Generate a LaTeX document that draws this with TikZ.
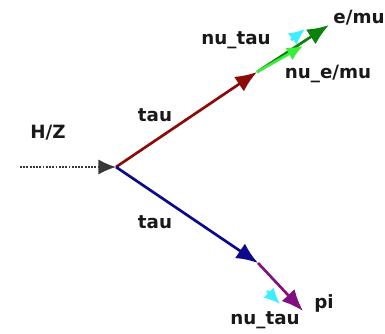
\documentclass[tikz,border=0pt]{standalone}
\usepackage{fontspec}
\setmainfont{DejaVu Sans}
\usetikzlibrary{arrows.meta,positioning}
\definecolor{taured}{HTML}{8B0A0A}
\definecolor{taublue}{HTML}{0A0A8B}
\definecolor{lepgreen}{HTML}{0A820A}
\definecolor{nugreen}{HTML}{3CEE3C}
\definecolor{nucyan}{HTML}{3CEEFF}
\definecolor{pipurple}{HTML}{80107F}
\definecolor{beamgray}{HTML}{383838}
\tikzset{
  particle/.style={-{Latex[length=5.4mm,width=4.4mm]}, line width=1.9pt},
  neutrino/.style={-{Latex[length=4mm,width=3.6mm]}, line width=1.9pt},
  beam/.style={-{Latex[length=4.4mm,width=3.8mm]}, densely dotted, line width=1.3pt, draw=beamgray},
  lbl/.style={font=\bfseries\fontsize{13}{15}\selectfont, text=black!90, inner sep=1pt}
}

\begin{document}
\begin{tikzpicture}[x=0.025cm, y=-0.025cm]
  \useasboundingbox (0,0) rectangle (385,333);
  % vertices and end points
  \coordinate (start) at (20,167);
  \coordinate (vtx) at (116,167);
  \coordinate (tauA) at (257,72);
  \coordinate (tauB) at (258,263);
  \coordinate (emu) at (329,25);
  \coordinate (nuemu) at (303,46);
  \coordinate (nutauA0) at (291,40);
  \coordinate (nutauA) at (305,29);
  \coordinate (pi) at (303,311);
  \coordinate (nutauB0) at (267,291);
  \coordinate (nutauB) at (280,304);
  % incoming boson
  \draw[beam] (start) -- (vtx);
  \node[lbl] (hz) at (48,133) {H/Z};
  % taus
  \draw[particle, draw=taured] (vtx) -- (tauA);
  \draw[particle, draw=taublue] (vtx) -- (tauB);
  \node[lbl] (tauupper) at (155,115) {tau};
  \node[lbl] (taulower) at (155,222) {tau};
  % leptonic decay
  \draw[neutrino, draw=nucyan] (nutauA0) -- (nutauA);
  \draw[particle, draw=lepgreen] (tauA) -- (emu);
  \draw[neutrino, draw=nugreen] (tauA) -- (nuemu);
  \node[lbl] (emulbl) at (359,18) {e/mu};
  \node[lbl] (nutaulblA) at (236,40) {nu\_tau};
  \node[lbl] (nuemulbl) at (328,74) {nu\_e/mu};
  % hadronic decay
  \draw[neutrino, draw=nucyan] (nutauB0) -- (nutauB);
  \draw[particle, draw=pipurple] (tauB) -- (pi);
  \node[lbl] (pilbl) at (324,303) {pi};
  \node[lbl] (nutaulblB) at (265,320) {nu\_tau};
\end{tikzpicture}
\end{document}
